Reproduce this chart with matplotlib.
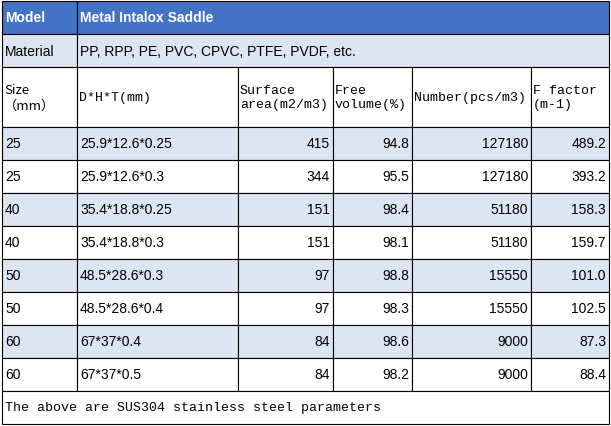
import matplotlib.pyplot as plt
from matplotlib.patches import Rectangle

title_left = "Model"
title_right = "Metal Intalox Saddle"
material_label = "Material"
material_text = "PP, RPP, PE, PVC, CPVC, PTFE, PVDF, etc."
col_headers = ["Size\n（mm）", "D*H*T(mm)", "Surface\narea(m2/m3)", "Free\nvolume(%)",
               "Number(pcs/m3)", "F factor\n(m-1)"]
sizes = ["25", "25", "40", "40", "50", "50", "60", "60"]
dims = ["25.9*12.6*0.25", "25.9*12.6*0.3", "35.4*18.8*0.25", "35.4*18.8*0.3",
        "48.5*28.6*0.3", "48.5*28.6*0.4", "67*37*0.4", "67*37*0.5"]
surface = [415, 344, 151, 151, 97, 97, 84, 84]
free_vol = [94.8, 95.5, 98.4, 98.1, 98.8, 98.3, 98.6, 98.2]
number = [127180, 127180, 51180, 51180, 15550, 15550, 9000, 9000]
f_factor = [489.2, 393.2, 158.3, 159.7, 101.0, 102.5, 87.3, 88.4]
footer = "The above are SUS304 stainless steel parameters"

xs = [2, 77, 238, 333, 412, 531, 609]
blue = "#4472C4"
light = "#DCE6F2"
mono = "Liberation Mono"
sans = "Liberation Sans"

fig = plt.figure(figsize=(6.11, 4.27), dpi=100)
ax = fig.add_axes([0, 0, 1, 1])
ax.set_xlim(0, 611)
ax.set_ylim(427, 0)
ax.axis("off")

def cell(x0, x1, y0, y1, fc):
    ax.add_patch(Rectangle((x0, y0), x1 - x0, y1 - y0, facecolor=fc,
                           edgecolor="black", linewidth=0.8))

# title row
cell(xs[0], xs[1], 2, 35, blue)
cell(xs[1], xs[-1], 2, 35, blue)
ax.text(xs[0] + 3, 18.5, title_left, color="white", fontweight="bold", fontsize=10,
        family=sans, va="center")
ax.text(xs[1] + 3, 18.5, title_right, color="white", fontweight="bold", fontsize=10,
        family=sans, va="center")

# material row
cell(xs[0], xs[1], 35, 68, light)
cell(xs[1], xs[-1], 35, 68, light)
ax.text(xs[0] + 3, 51.5, material_label, fontsize=10, family=sans, va="center")
ax.text(xs[1] + 3, 51.5, material_text, fontsize=10, family=sans, va="center")

# column header row
for i, h in enumerate(col_headers):
    cell(xs[i], xs[i + 1], 68, 128, "white")
    ax.text(xs[i] + 2, 98, h, fontsize=9.5, family=["Noto Sans CJK SC", mono] if i == 0 else mono,
            va="center", linespacing=1.3)

# data rows
y = 128
rh = 33
for r in range(len(sizes)):
    fc = light if r % 2 == 0 else "white"
    for i in range(6):
        cell(xs[i], xs[i + 1], y, y + rh, fc)
    yc = y + rh / 2
    ax.text(xs[0] + 3, yc, sizes[r], fontsize=10, family=sans, va="center")
    ax.text(xs[1] + 3, yc, dims[r], fontsize=10, family=sans, va="center")
    vals = [str(surface[r]), f"{free_vol[r]:.1f}", str(number[r]), f"{f_factor[r]:.1f}"]
    for k, v in enumerate(vals):
        ax.text(xs[k + 3] - 3, yc, v, fontsize=10, family=sans, va="center", ha="right")
    y += rh

# footer
cell(xs[0], xs[-1], y, y + rh, "white")
ax.text(xs[0] + 3, y + rh / 2, footer, fontsize=9.5, family=mono, va="center")

fig.savefig("out.png", dpi=100)
